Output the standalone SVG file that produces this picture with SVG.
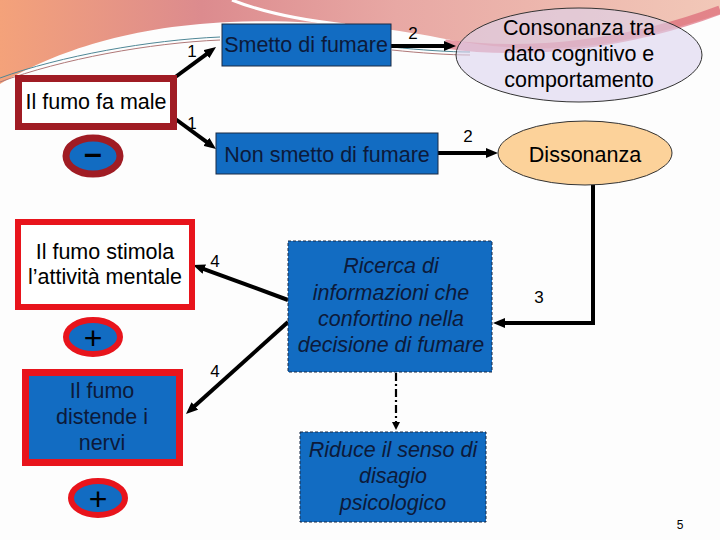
<svg xmlns="http://www.w3.org/2000/svg" width="720" height="540" viewBox="0 0 720 540">
<defs>
  <linearGradient id="band" x1="0" y1="0" x2="1" y2="0">
    <stop offset="0" stop-color="#f4a27a"/>
    <stop offset="0.28" stop-color="#dc8b8e"/>
    <stop offset="0.55" stop-color="#e8a8a4"/>
    <stop offset="1" stop-color="#f2c8b8"/>
  </linearGradient>
  <marker id="ah" viewBox="0 0 12 10" refX="4" refY="5" markerWidth="12" markerHeight="10" markerUnits="userSpaceOnUse" orient="auto">
    <path d="M0,0 L12,5 L0,10 Z" fill="#000"/>
  </marker>
  <marker id="ahs" viewBox="0 0 8 8" refX="2" refY="4" markerWidth="8" markerHeight="8" markerUnits="userSpaceOnUse" orient="auto">
    <path d="M0,0 L8,4 L0,8 Z" fill="#000"/>
  </marker>
</defs>
<style>
  .t { font-family: "Liberation Sans", Arial, sans-serif; font-size: 21.5px; text-anchor: middle; }
  .blk { fill: #000; }
  .nav { fill: #0c1a3a; }
  .it { font-style: italic; }
  .lbl { font-family: "Liberation Sans", Arial, sans-serif; font-size: 17px; text-anchor: middle; fill: #000; }
  .blue { fill: #126cc2; stroke: #1a2a44; stroke-width: 1; }
  .dash { fill: #126cc2; stroke: #1a2a44; stroke-width: 1; stroke-dasharray: 3 2; }
  .arr { fill: none; stroke: #000; stroke-width: 4; marker-end: url(#ah); }
  .sign { font-family: "Liberation Sans", Arial, sans-serif; text-anchor: middle; fill: #000; }
</style>

<!-- background -->
<rect x="0" y="0" width="720" height="540" fill="#fdfdfd"/>
<path d="M0,0 H720 V14 C 690,24 655,34 615,42 C 560,52 500,50 440,38 C 380,26 300,19 230,22 C 120,27 50,55 0,84 Z" fill="url(#band)"/>
<path d="M232,0 C 262,12 300,20 345,25" fill="none" stroke="#ffffff" stroke-width="3"/>
<path d="M445,44 C 530,56 630,44 720,10" fill="none" stroke="#d9566a" stroke-width="9" opacity="0.6"/>
<path d="M0,78 C 60,56 150,40 220,37" fill="none" stroke="#4f8796" stroke-width="1"/>
<path d="M0,82 C 62,59 150,43 220,40" fill="none" stroke="#b07878" stroke-width="1"/>
<path d="M392,47 C 420,50 450,52 470,52" fill="none" stroke="#4f8796" stroke-width="1"/>
<path d="M392,50 C 420,53 450,55 470,55" fill="none" stroke="#b07878" stroke-width="1"/>

<!-- connectors -->
<g id="connectors">
  <line class="arr" x1="174" y1="78" x2="209.6" y2="51.8"/>
  <line class="arr" x1="174" y1="118" x2="209.6" y2="144.2"/>
  <line class="arr" x1="391" y1="46" x2="448" y2="46"/>
  <line class="arr" x1="438" y1="153" x2="490" y2="153"/>
  <polyline class="arr" points="593,185 593,323 501,323"/>
  <line class="arr" x1="288" y1="300" x2="200.5" y2="267.8"/>
  <line class="arr" x1="288" y1="322" x2="191.9" y2="408.6"/>
  <line x1="396" y1="373" x2="396" y2="424" stroke="#000" stroke-width="2.2" stroke-dasharray="8 3 2 3" marker-end="url(#ahs)"/>
  <text class="lbl" x="192" y="57">1</text>
  <text class="lbl" x="192" y="129">1</text>
  <text class="lbl" x="413" y="39">2</text>
  <text class="lbl" x="468" y="142">2</text>
  <text class="lbl" x="539" y="303">3</text>
  <text class="lbl" x="215" y="267">4</text>
  <text class="lbl" x="215" y="377">4</text>
</g>

<!-- nodes -->
<g id="fumo-fa-male">
  <rect x="18.5" y="78.5" width="155" height="48" fill="#fff" stroke="#a01c24" stroke-width="7"/>
  <text class="t blk" x="96" y="109">Il fumo fa male</text>
</g>
<g id="meno">
  <ellipse cx="93" cy="156" rx="27" ry="18" fill="#126cc2" stroke="#a01c24" stroke-width="7"/>
  <text class="sign" x="93" y="164" font-size="32" font-weight="bold">–</text>
</g>
<g id="smetto">
  <rect class="blue" x="222" y="24" width="169" height="42"/>
  <text class="t nav" x="306" y="52">Smetto di fumare</text>
</g>
<g id="non-smetto">
  <rect class="blue" x="216" y="133" width="222" height="41"/>
  <text class="t nav" x="327" y="162">Non smetto di fumare</text>
</g>
<g id="consonanza">
  <ellipse cx="579" cy="55" rx="123" ry="47" fill="#dcd4ee" fill-opacity="0.6" stroke="#333" stroke-width="1"/>
  <text class="t blk" x="579" y="35">Consonanza tra</text>
  <text class="t blk" x="579" y="61">dato cognitivo e</text>
  <text class="t blk" x="579" y="87">comportamento</text>
</g>
<g id="dissonanza">
  <ellipse cx="585" cy="153" rx="87" ry="32" fill="#fcd29a" stroke="#333" stroke-width="1"/>
  <text class="t blk" x="585" y="162">Dissonanza</text>
</g>
<g id="stimola">
  <rect x="18" y="222" width="174" height="85" fill="#fff" stroke="#e8141c" stroke-width="6"/>
  <text class="t blk" x="105" y="259">Il fumo stimola</text>
  <text class="t blk" x="105" y="284">l’attività mentale</text>
</g>
<g id="piu1">
  <ellipse cx="93" cy="337" rx="27" ry="17" fill="#126cc2" stroke="#e8141c" stroke-width="6"/>
  <text class="sign" x="93" y="349" font-size="32">+</text>
</g>
<g id="distende">
  <rect x="25.5" y="372.5" width="154" height="90" fill="#126cc2" stroke="#e8141c" stroke-width="7"/>
  <text class="t nav" x="102" y="398">Il fumo</text>
  <text class="t nav" x="102" y="424">distende i</text>
  <text class="t nav" x="102" y="450">nervi</text>
</g>
<g id="piu2">
  <ellipse cx="98" cy="498" rx="27" ry="17" fill="#126cc2" stroke="#e8141c" stroke-width="6"/>
  <text class="sign" x="98" y="510" font-size="32">+</text>
</g>
<g id="ricerca">
  <rect class="dash" x="288" y="241" width="204" height="131"/>
  <text class="t nav it" x="391" y="273">Ricerca di</text>
  <text class="t nav it" x="391" y="300">informazioni che</text>
  <text class="t nav it" x="391" y="326">confortino nella</text>
  <text class="t nav it" x="391" y="352">decisione di fumare</text>
</g>
<g id="riduce">
  <rect class="dash" x="300" y="432" width="186" height="90"/>
  <text class="t nav it" x="393" y="457">Riduce il senso di</text>
  <text class="t nav it" x="393" y="483">disagio</text>
  <text class="t nav it" x="393" y="510">psicologico</text>
</g>
<text x="680" y="529" font-family="Liberation Sans, Arial, sans-serif" font-size="12" text-anchor="middle" fill="#000">5</text>
</svg>
